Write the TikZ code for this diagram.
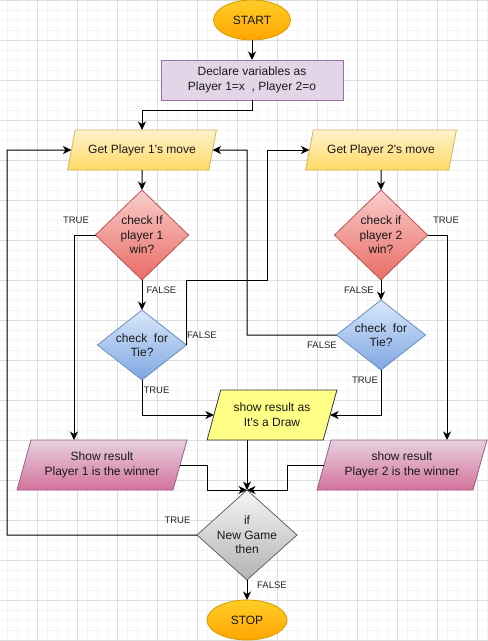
\documentclass[tikz,border=0pt]{standalone}
\usepackage{fontspec}
\setmainfont{Liberation Sans}
\usetikzlibrary{shapes.geometric,arrows.meta,calc}
\tikzset{>={Stealth[length=8.5pt,width=8pt,inset=2.5pt]}}

\definecolor{termtop}{HTML}{FFCD28}
\definecolor{termbot}{HTML}{FFA500}
\definecolor{termline}{HTML}{D79B00}
\definecolor{declfill}{HTML}{E1D5E7}
\definecolor{declline}{HTML}{9673A6}
\definecolor{movetop}{HTML}{FFF2CC}
\definecolor{movebot}{HTML}{FFD966}
\definecolor{moveline}{HTML}{D6B656}
\definecolor{wintop}{HTML}{F8CECC}
\definecolor{winbot}{HTML}{EA6B66}
\definecolor{winline}{HTML}{B85450}
\definecolor{tietop}{HTML}{DAE8FC}
\definecolor{tiebot}{HTML}{7EA6E0}
\definecolor{tieline}{HTML}{6C8EBF}
\definecolor{drawfill}{HTML}{FFFF88}
\definecolor{drawline}{HTML}{36393D}
\definecolor{restop}{HTML}{E6D0DE}
\definecolor{resbot}{HTML}{D5739D}
\definecolor{resline}{HTML}{996185}
\definecolor{gametop}{HTML}{F5F5F5}
\definecolor{gamebot}{HTML}{B3B3B3}
\definecolor{gameline}{HTML}{666666}
\definecolor{gridmin}{HTML}{F4F4F4}
\definecolor{gridmaj}{HTML}{DCDCDC}

\tikzset{
  box/.style={draw, line width=0.8pt, outer sep=0pt, align=center,
    text=black!90, font=\fontsize{12}{15}\selectfont},
  terminal/.style={box, ellipse, draw=termline, top color=termtop,
    bottom color=termbot, minimum width=77pt, minimum height=40pt},
  declbox/.style={box, rectangle, draw=declline, fill=declfill,
    minimum width=182pt, minimum height=40pt},
  slanted/.style={box, trapezium, trapezium left angle=70,
    trapezium right angle=110, trapezium stretches=true},
  movebox/.style={slanted, draw=moveline, top color=movetop,
    bottom color=movebot, minimum height=40pt},
  drawbox/.style={slanted, draw=drawline, fill=drawfill,
    minimum width=130pt, minimum height=50pt},
  resbox/.style={slanted, draw=resline, top color=restop,
    bottom color=resbot, minimum width=170pt, minimum height=50pt},
  decision/.style={box, diamond, inner sep=-4pt,
    font=\fontsize{12}{14.5}\selectfont},
  windiam/.style={decision, draw=winline, top color=wintop,
    bottom color=winbot, minimum width=93pt, minimum height=90pt},
  tiediam/.style={decision, draw=tieline, top color=tietop,
    bottom color=tiebot, aspect=1.3, minimum width=89pt, minimum height=70pt},
  gamediam/.style={decision, draw=gameline, top color=gametop,
    bottom color=gamebot, minimum width=100pt, minimum height=90pt},
  conn/.style={->, line width=1pt, black},
  lbl/.style={inner sep=0pt, text=black!85, font=\fontsize{9.5}{11}\selectfont},
  gridminor/.style={gridmin, line width=0.6pt},
  gridmajor/.style={gridmaj, line width=0.8pt}
}

\begin{document}
\begin{tikzpicture}[x=1pt,y=-1pt]
  \useasboundingbox (0,0) rectangle (488,641);
  % background grid
  \foreach \gx in {7,17,...,487} \draw[gridminor] (\gx,0) -- (\gx,641);
  \foreach \gy in {0,10,...,640} \draw[gridminor] (0,\gy) -- (488,\gy);
  \foreach \gx in {37,77,...,477} \draw[gridmajor] (\gx,0) -- (\gx,641);
  \foreach \gy in {0,40,...,640} \draw[gridmajor] (0,\gy) -- (488,\gy);

  % shapes
  \node[terminal] (start) at (252,20) {START};
  \node[declbox] (declare) at (252,80) {Declare variables as\\Player 1=x\ \ , Player 2=o};
  \node[movebox, minimum width=149pt] (getone) at (142,150) {Get Player 1\textquotesingle s move};
  \node[movebox, minimum width=151pt] (gettwo) at (381,150) {Get Player 2\textquotesingle s move};
  \node[windiam] (winone) at (142,235) {check If\\player 1\\win?};
  \node[windiam] (wintwo) at (381,235) {check if\\player 2\\win?};
  \node[tiediam] (tieone) at (142,345) {check\ \ for\\Tie?};
  \node[tiediam] (tietwo) at (381,335) {check\ \ for\\Tie?};
  \node[drawbox] (drawres) at (272,415) {show result as\\It\textquotesingle s a Draw};
  \node[resbox] (resone) at (102,465) {Show result\\Player 1 is the winner};
  \node[resbox] (restwo) at (402,465) {show result\\Player 2 is the winner};
  \node[gamediam] (newgame) at (247,535) {if\\New Game\\then};
  \node[terminal, minimum width=80pt] (stop) at (247,620) {STOP};

  % connectors
  \draw[conn] (start) -- (declare);
  \draw[conn] (declare.south) -- ++(0,10) -| (getone.north);
  \draw[conn] (getone) -- (winone);
  \draw[conn] (gettwo) -- (wintwo);
  \draw[conn] (winone) -- (tieone);
  \draw[conn] (wintwo) -- (tietwo);
  \draw[conn] (winone.west) -| ($(resone.center)+(-28,-25)$);
  \draw[conn] (wintwo.east) -| ($(restwo.center)+(45,-25)$);
  \draw[conn] (tieone.south) |- (drawres.west);
  \draw[conn] (tietwo.south) |- (drawres.east);
  \draw[conn] (tieone.east) |- (267,280) |- (gettwo.west);
  \draw[conn] (tietwo.west) -| (247,150) -- (getone.east);
  \draw[conn] (resone.east) -| (207,490) -- (newgame.north);
  \draw[conn] (restwo.west) -| (287,490) -- (newgame.north);
  \draw[conn] (drawres.south -| newgame.north) -- (newgame.north);
  \draw[conn] (newgame.west) -| (7,150) -- (getone.west);
  \draw[conn] (newgame) -- (stop);

  % branch labels
  \node[lbl] (winonef) at (161.5,290) {FALSE};
  \node[lbl] (wintwof) at (359,290) {FALSE};
  \node[lbl] (winonet) at (76,220.5) {TRUE};
  \node[lbl] (wintwot) at (446,220.5) {TRUE};
  \node[lbl] (tieonef) at (202,335) {FALSE};
  \node[lbl] (tietwof) at (322,345) {FALSE};
  \node[lbl] (tieonet) at (156.5,390.5) {TRUE};
  \node[lbl] (tietwot) at (365,380.5) {TRUE};
  \node[lbl] (newgamet) at (177.5,520) {TRUE};
  \node[lbl] (newgamef) at (272,585) {FALSE};
\end{tikzpicture}
\end{document}
